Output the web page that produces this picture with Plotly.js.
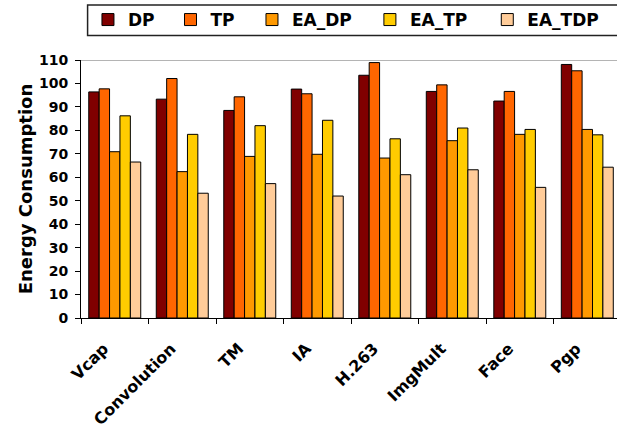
<!DOCTYPE html>
<html>
<head>
<meta charset="utf-8">
<script src="https://cdn.plot.ly/plotly-3.0.1.min.js"></script>
<style>html,body{margin:0;padding:0;background:#fff;overflow:hidden}</style>
</head>
<body>
<div id="chart" style="width:617px;height:430px"></div>
<script>
const categories = ["Vcap","Convolution","TM","IA","H.263","ImgMult","Face","Pgp"];
const DP     = [96.4, 93.3, 88.5, 97.6, 103.5, 96.6, 92.5, 108.1];
const TP     = [97.7, 102.1, 94.3, 95.6, 108.9, 99.4, 96.6, 105.4];
const EA_DP  = [70.9, 62.4, 68.9, 69.8, 68.2, 75.6, 78.3, 80.4];
const EA_TP  = [86.2, 78.3, 82.0, 84.3, 76.4, 81.0, 80.4, 78.1];
const EA_TDP = [66.5, 53.2, 57.3, 52.0, 61.1, 63.2, 55.7, 64.3];
const seriesNames = ["DP","TP","EA_DP","EA_TP","EA_TDP"];
const seriesValues = [DP, TP, EA_DP, EA_TP, EA_TDP];
const colors = ["#800000","#FF6600","#FF9900","#FFCC00","#FFCC99"];
const yTicks = [0,10,20,30,40,50,60,70,80,90,100,110];

const FONT = "DejaVu Sans, Liberation Sans, Arial, sans-serif";
const legendKeys = ["legend","legend2","legend3","legend4","legend5"];
// legend left edges in paper coords (plot spans 81..617 px)
const legendX = [0.013, 0.167, 0.319, 0.539, 0.758];

const traces = seriesNames.map((n,i)=>({
  type:"bar", name:n, x:categories, y:seriesValues[i],
  marker:{color:colors[i], line:{color:"#000", width:1}},
  legend: legendKeys[i]
}));

const layout = {
  width:617, height:430,
  margin:{l:81, r:0, t:60, b:112, autoexpand:false},
  paper_bgcolor:"#fff", plot_bgcolor:"#fff",
  font:{family:FONT, color:"#000"},
  barmode:"group", bargap:0.23, bargroupgap:0,
  showlegend:true,
  xaxis:{
    type:"category", range:[-0.5, 7.44], tickson:"boundaries",
    ticks:"outside", ticklen:5, tickcolor:"#000", showline:true, linecolor:"#000", linewidth:1,
    showgrid:false, zeroline:false, tickangle:-45,
    tickfont:{family:FONT, size:16, weight:"bold", color:"#000"},
    ticklabelshift:-11, ticklabelstandoff:14
  },
  yaxis:{
    range:[0,110], tickvals:yTicks, ticks:"outside", ticklen:5, tickcolor:"#000",
    showline:true, linecolor:"#000", linewidth:1, showgrid:false, zeroline:false,
    tickfont:{family:FONT, size:14, weight:"bold", color:"#000"},
    ticklabelstandoff:4,
    title:{text:"Energy Consumption", font:{family:FONT, size:18, weight:"bold", color:"#000"}, standoff:1}
  },
  shapes:[
    {type:"line", xref:"paper", yref:"y", x0:0, x1:1, y0:110, y1:110, line:{color:"#b4b4b4", width:2}},
    {type:"rect", xref:"paper", yref:"paper", x0:0.0123, x1:1.03, y0:1.095, y1:1.213, line:{color:"#222", width:1.5}, fillcolor:"rgba(0,0,0,0)"}
  ]
};
legendKeys.forEach((k,i)=>{
  layout[k] = {
    orientation:"h", x:legendX[i], xanchor:"left", y:1.155, yanchor:"middle",
    bgcolor:"rgba(0,0,0,0)", borderwidth:0,
    font:{family:FONT, size:17, weight:"bold", color:"#000"}
  };
});

Plotly.newPlot("chart", traces, layout, {displayModeBar:false, staticPlot:true});
</script>
</body>
</html>
